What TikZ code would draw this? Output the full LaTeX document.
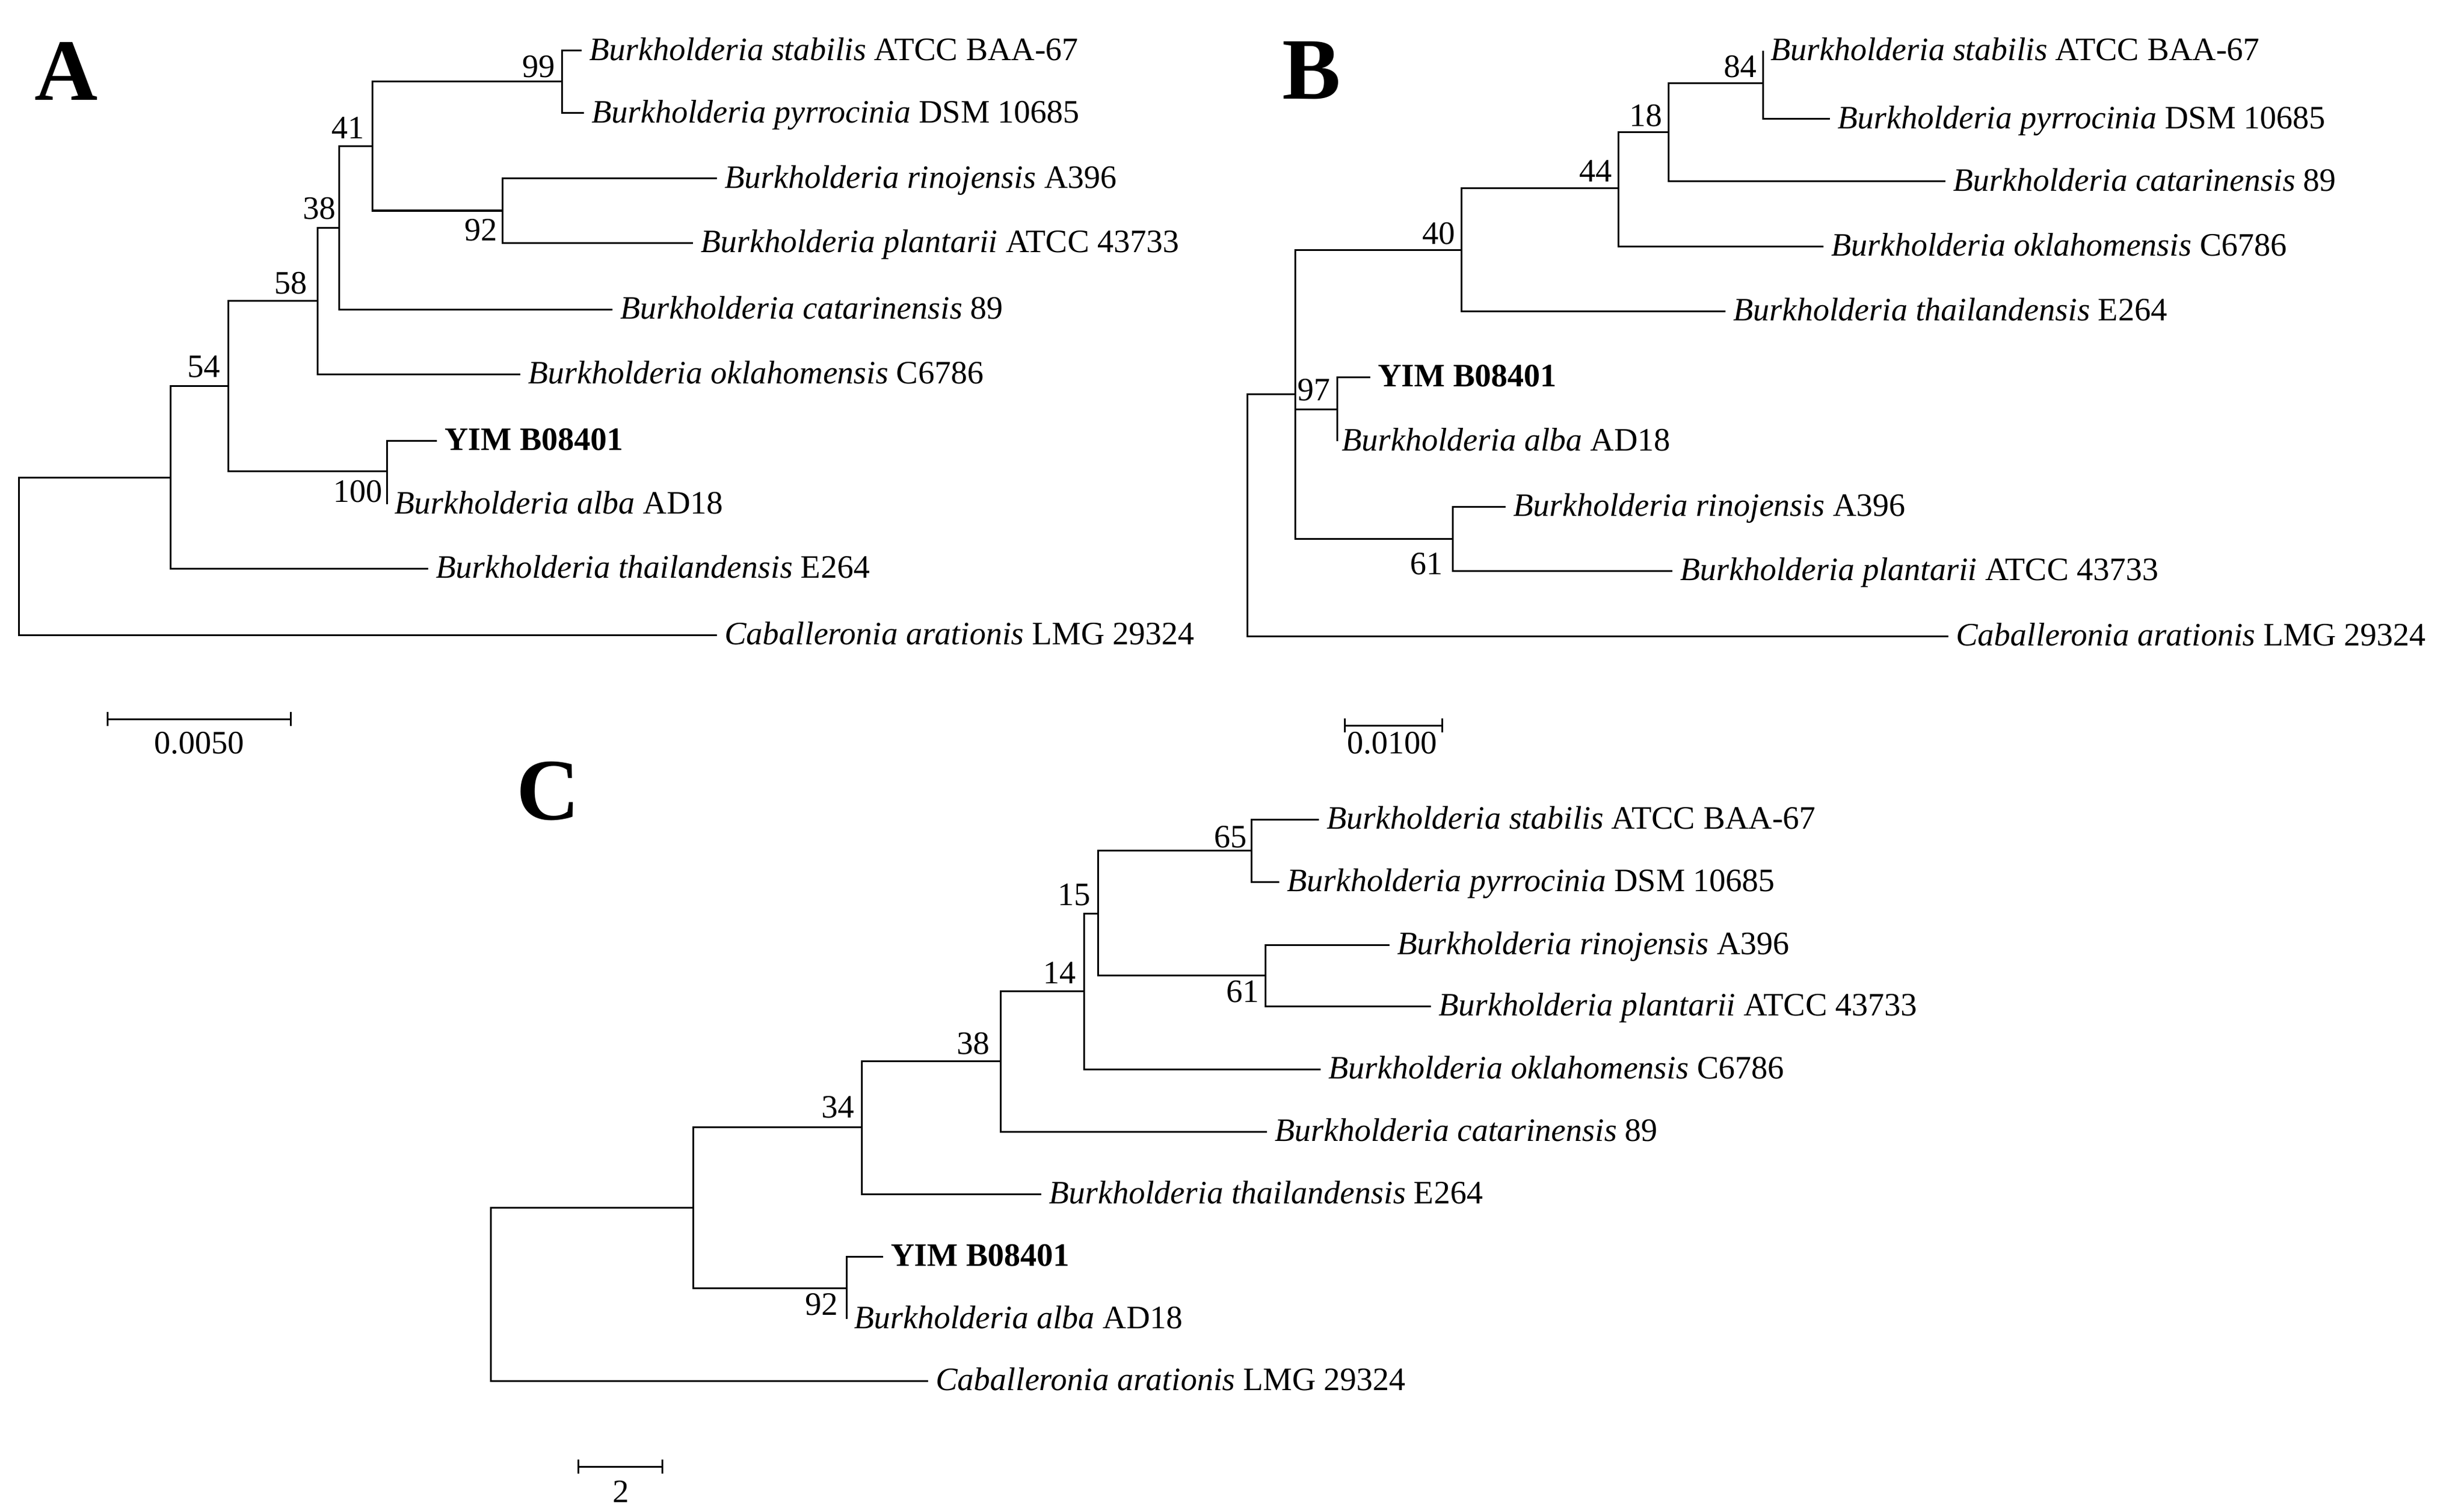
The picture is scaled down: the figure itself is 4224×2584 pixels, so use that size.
\documentclass[tikz,border=0pt]{standalone}
\usepackage{fontspec}
\setmainfont{Liberation Serif}
\begin{document}
\begin{tikzpicture}[x=0.2pt,y=-0.2pt,line width=0.6pt,
  leaf/.style={anchor=west,inner xsep=2.4pt,inner ysep=0pt,text height=0.66em,text depth=0pt,font=\fontsize{11.2}{13}\selectfont},
  bs/.style={anchor=east,inner sep=0pt,font=\fontsize{11.2}{13}\selectfont},
  panel/.style={font=\fontsize{30}{32}\selectfont\bfseries,inner sep=0pt},
  br/.style={line width=0.6pt}]
\useasboundingbox (0,0) rectangle (4224,2584);
% ---------------- A ----------------
\node[panel] (LA) at (114,122) {A};
\coordinate (aR) at (32,953);
\coordinate (a54) at (292,818);
\coordinate (a58) at (391,661);
\coordinate (a38) at (544,515);
\coordinate (aX) at (581,390);
\coordinate (a41) at (638,251);
\coordinate (a99) at (963,140);
\coordinate (a92) at (861,361);
\coordinate (a100) at (663,807);
\node[leaf] (aStab) at (997,87) {\textit{Burkholderia stabilis} ATCC BAA-67};
\node[leaf] (aPyr) at (1001,194) {\textit{Burkholderia pyrrocinia} DSM 10685};
\node[leaf] (aRin) at (1229,306) {\textit{Burkholderia rinojensis} A396};
\node[leaf] (aPla) at (1188,416) {\textit{Burkholderia plantarii} ATCC 43733};
\node[leaf] (aCat) at (1050,530) {\textit{Burkholderia catarinensis} 89};
\node[leaf] (aOkl) at (892,641) {\textit{Burkholderia oklahomensis} C6786};
\node[leaf,font=\fontsize{11.2}{13}\selectfont\bfseries] (aYIM) at (749,755) {YIM B08401};
\node[leaf] (aAlb) at (663,864) {\textit{Burkholderia alba} AD18};
\node[leaf] (aTha) at (734,974) {\textit{Burkholderia thailandensis} E264};
\node[leaf] (aCab) at (1229,1088) {\textit{Caballeronia arationis} LMG 29324};
\draw[br] (aR) |- (a54); \draw[br] (aR) |- (aCab.west);
\draw[br] (a54) |- (a58); \draw[br] (a54) |- (aTha.west);
\draw[br] (a58) |- (a38); \draw[br] (a58) |- (a100);
\draw[br] (a38) |- (aX); \draw[br] (a38) |- (aOkl.west);
\draw[br] (aX) |- (a41); \draw[br] (aX) |- (aCat.west);
\draw[br] (a41) |- (a99); \draw[br] (a41) |- (a92);
\draw[br] (a99) |- (aStab.west); \draw[br] (a99) |- (aPyr.west);
\draw[br] (a92) |- (aRin.west); \draw[br] (a92) |- (aPla.west);
\draw[br] (a100) |- (aYIM.west); \draw[br] (a100) |- (aAlb.west);
\node[bs] (ba54) at (379,628) {54};
\node[bs] (ba58) at (528,485) {58};
\node[bs] (ba38) at (577,357) {38};
\node[bs] (ba41) at (626,219) {41};
\node[bs] (ba99) at (953,114) {99};
\node[bs] (ba92) at (854,394) {92};
\node[bs] (ba100) at (657,842) {100};
\coordinate (sa1) at (184,1232); \coordinate (sa2) at (498,1232);
\draw[br] (sa1) -- (sa2);
\draw[br] (sa1) ++(0,-12) -- ++(0,24); \draw[br] (sa2) ++(0,-12) -- ++(0,24);
\node[bs,anchor=center] (saT) at (341,1273) {0.0050};
% ---------------- B ----------------
\node[panel] (LB) at (2248,121) {B};
\coordinate (bR) at (2138,882);
\coordinate (b97) at (2220,675);
\coordinate (b40) at (2505,428);
\coordinate (b44) at (2774,323);
\coordinate (b18) at (2860,227);
\coordinate (b84) at (3022,143);
\coordinate (bY) at (2292,701);
\coordinate (b61) at (2490,923);
\node[leaf] (bStab) at (3022,87) {\textit{Burkholderia stabilis} ATCC BAA-67};
\node[leaf] (bPyr) at (3137,204) {\textit{Burkholderia pyrrocinia} DSM 10685};
\node[leaf] (bCat) at (3335,311) {\textit{Burkholderia catarinensis} 89};
\node[leaf] (bOkl) at (3126,422) {\textit{Burkholderia oklahomensis} C6786};
\node[leaf] (bTha) at (2958,533) {\textit{Burkholderia thailandensis} E264};
\node[leaf,font=\fontsize{11.2}{13}\selectfont\bfseries] (bYIM) at (2349,646) {YIM B08401};
\node[leaf,inner xsep=1.4pt] (bAlb) at (2292,756) {\textit{Burkholderia alba} AD18};
\node[leaf] (bRin) at (2581,868) {\textit{Burkholderia rinojensis} A396};
\node[leaf] (bPla) at (2867,978) {\textit{Burkholderia plantarii} ATCC 43733};
\node[leaf] (bCab) at (3340,1090) {\textit{Caballeronia arationis} LMG 29324};
\draw[br] (bR) |- (b97); \draw[br] (bR) |- (bCab.west);
\draw[br] (b97) |- (b40); \draw[br] (b97) |- (bY); \draw[br] (b97) |- (b61);
\draw[br] (b40) |- (b44); \draw[br] (b40) |- (bTha.west);
\draw[br] (b44) |- (b18); \draw[br] (b44) |- (bOkl.west);
\draw[br] (b18) |- (b84); \draw[br] (b18) |- (bCat.west);
\draw[br] (b84) |- (bStab.west); \draw[br] (b84) |- (bPyr.west);
\draw[br] (bY) |- (bYIM.west); \draw[br] (bY) |- (bAlb.west);
\draw[br] (b61) |- (bRin.west); \draw[br] (b61) |- (bPla.west);
\node[bs] (bb97) at (2282,668) {97};
\node[bs] (bb40) at (2496,400) {40};
\node[bs] (bb44) at (2765,293) {44};
\node[bs] (bb18) at (2851,198) {18};
\node[bs] (bb84) at (3013,114) {84};
\node[bs] (bb61) at (2475,966) {61};
\coordinate (sb1) at (2305,1243); \coordinate (sb2) at (2472,1243);
\draw[br] (sb1) -- (sb2);
\draw[br] (sb1) ++(0,-12) -- ++(0,24); \draw[br] (sb2) ++(0,-12) -- ++(0,24);
\node[bs,anchor=center] (sbT) at (2386,1273) {0.0100};
% ---------------- C ----------------
\node[panel] (LC) at (940,1356) {C};
\coordinate (cR) at (841,2218);
\coordinate (cP) at (1188,2069);
\coordinate (c34) at (1477,1931);
\coordinate (c38) at (1715,1818);
\coordinate (c14) at (1858,1698);
\coordinate (c15) at (1882,1565);
\coordinate (c65) at (2145,1457);
\coordinate (c61) at (2169,1671);
\coordinate (cY) at (1451,2207);
\node[leaf] (cStab) at (2261,1404) {\textit{Burkholderia stabilis} ATCC BAA-67};
\node[leaf] (cPyr) at (2193,1511) {\textit{Burkholderia pyrrocinia} DSM 10685};
\node[leaf] (cRin) at (2382,1619) {\textit{Burkholderia rinojensis} A396};
\node[leaf] (cPla) at (2453,1724) {\textit{Burkholderia plantarii} ATCC 43733};
\node[leaf] (cOkl) at (2264,1832) {\textit{Burkholderia oklahomensis} C6786};
\node[leaf] (cCat) at (2172,1939) {\textit{Burkholderia catarinensis} 89};
\node[leaf] (cTha) at (1785,2046) {\textit{Burkholderia thailandensis} E264};
\node[leaf,font=\fontsize{11.2}{13}\selectfont\bfseries] (cYIM) at (1514,2153) {YIM B08401};
\node[leaf] (cAlb) at (1451,2260) {\textit{Burkholderia alba} AD18};
\node[leaf] (cCab) at (1591,2366) {\textit{Caballeronia arationis} LMG 29324};
\draw[br] (cR) |- (cP); \draw[br] (cR) |- (cCab.west);
\draw[br] (cP) |- (c34); \draw[br] (cP) |- (cY);
\draw[br] (c34) |- (c38); \draw[br] (c34) |- (cTha.west);
\draw[br] (c38) |- (c14); \draw[br] (c38) |- (cCat.west);
\draw[br] (c14) |- (c15); \draw[br] (c14) |- (cOkl.west);
\draw[br] (c15) |- (c65); \draw[br] (c15) |- (c61);
\draw[br] (c65) |- (cStab.west); \draw[br] (c65) |- (cPyr.west);
\draw[br] (c61) |- (cRin.west); \draw[br] (c61) |- (cPla.west);
\draw[br] (cY) |- (cYIM.west); \draw[br] (cY) |- (cAlb.west);
\node[bs] (cb65) at (2139,1434) {65};
\node[bs] (cb15) at (1871,1533) {15};
\node[bs] (cb14) at (1846,1667) {14};
\node[bs] (cb38) at (1698,1788) {38};
\node[bs] (cb34) at (1466,1897) {34};
\node[bs] (cb92) at (1438,2235) {92};
\node[bs] (cb61) at (2160,1699) {61};
\coordinate (sc1) at (991,2513); \coordinate (sc2) at (1135,2513);
\draw[br] (sc1) -- (sc2);
\draw[br] (sc1) ++(0,-12) -- ++(0,24); \draw[br] (sc2) ++(0,-12) -- ++(0,24);
\node[bs,anchor=center] (scT) at (1064,2556) {2};
\end{tikzpicture}
\end{document}
